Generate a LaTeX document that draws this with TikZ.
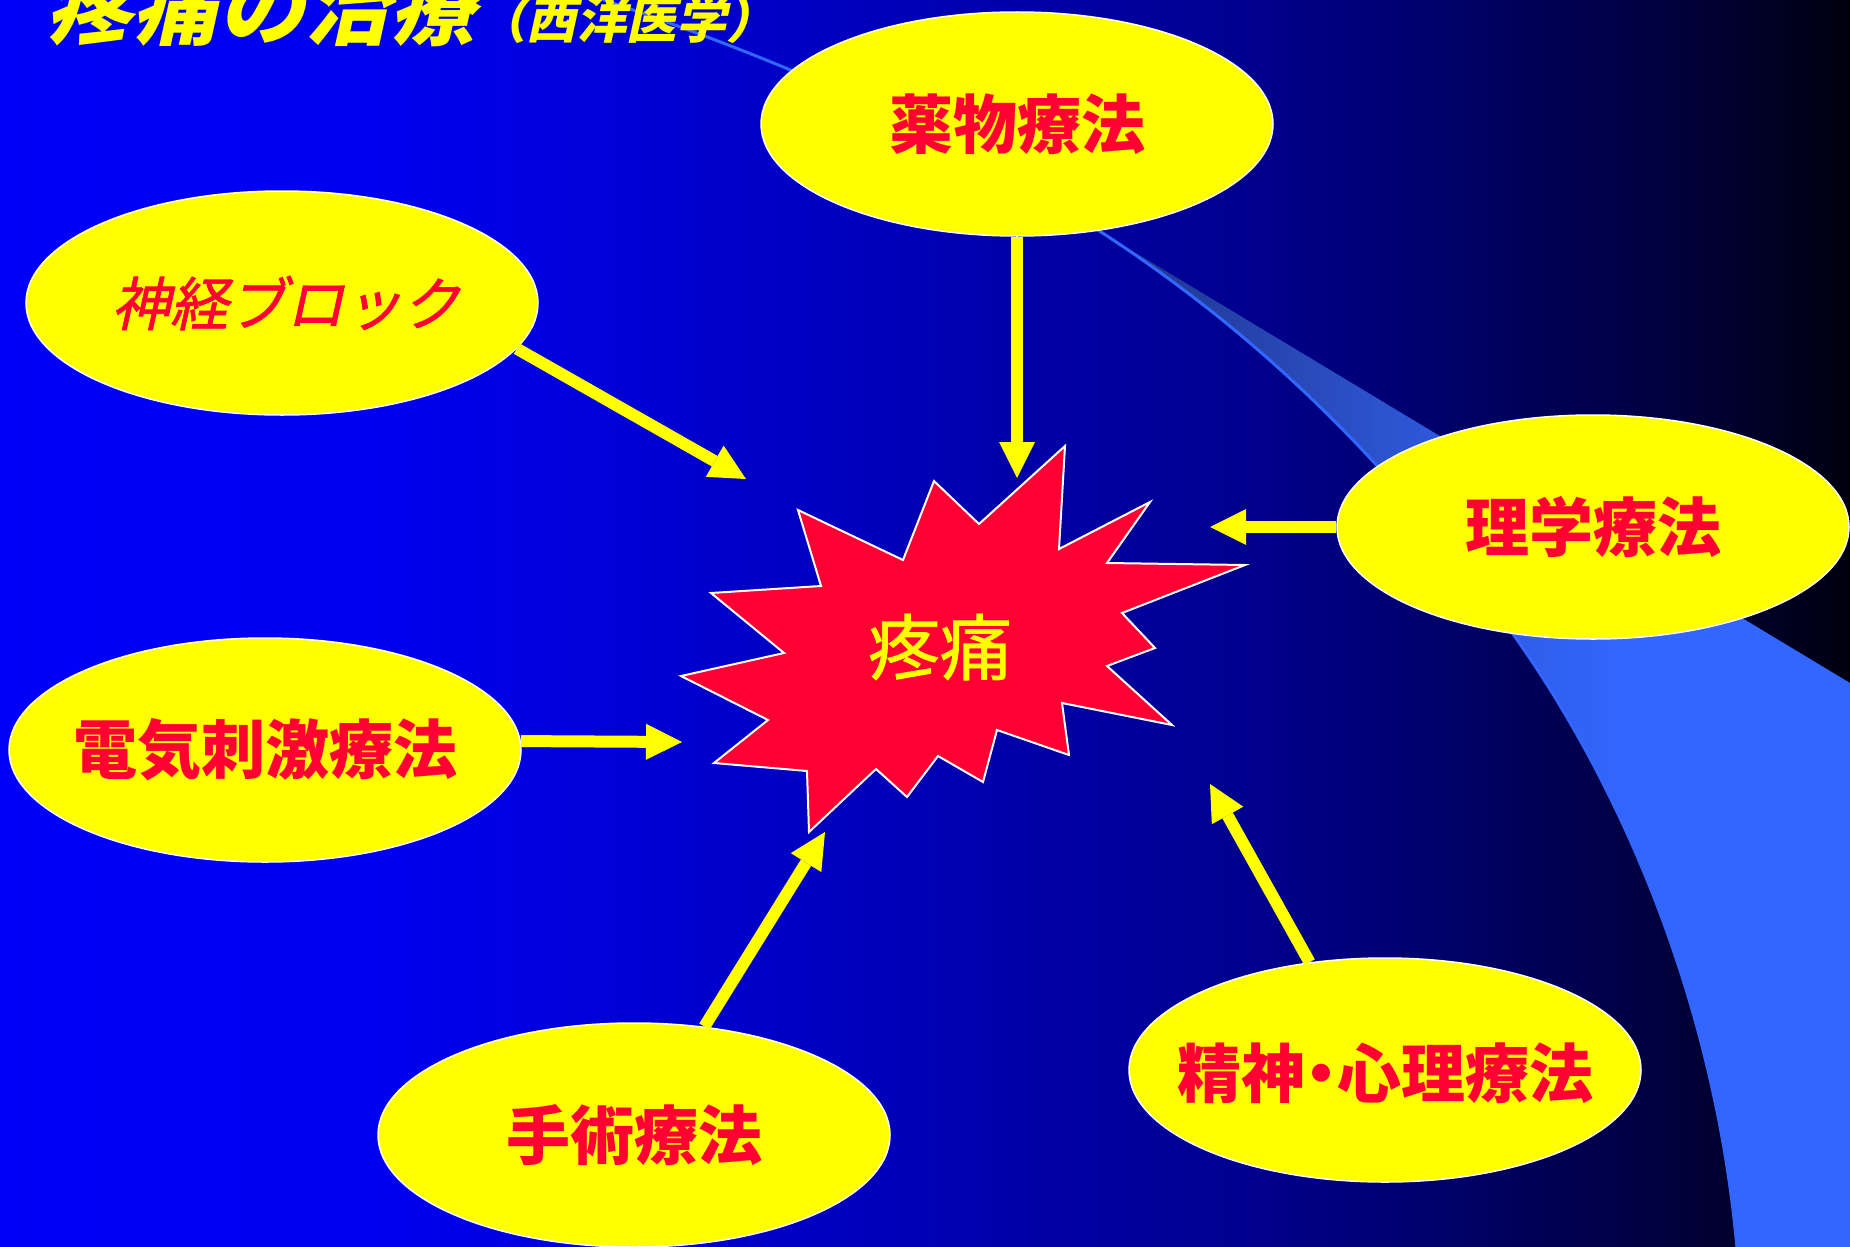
\documentclass[tikz,border=0pt]{standalone}
\usepackage{fontspec}
\usetikzlibrary{shapes.geometric,arrows.meta}
\newfontfamily\jp{Noto Sans CJK JP}
\newfontfamily\jpm{Noto Sans CJK JP}[FakeBold=1.2]
\newfontfamily\jpsl{Noto Sans CJK JP}[FakeSlant=0.22]
\newfontfamily\jpslm{Noto Sans CJK JP}[FakeSlant=0.22,FakeBold=1.2]
\definecolor{bgA}{RGB}{0,0,250}
\definecolor{bgB}{RGB}{0,0,240}
\definecolor{bgC}{RGB}{0,0,200}
\definecolor{bgD}{RGB}{0,0,140}
\definecolor{bgE}{RGB}{0,0,65}
\definecolor{bgF}{RGB}{0,0,15}
\definecolor{swA}{RGB}{30,50,135}
\definecolor{swB}{RGB}{45,85,210}
\definecolor{swC}{RGB}{51,102,255}
\definecolor{painred}{RGB}{255,0,51}
\definecolor{ovyellow}{RGB}{255,255,0}
\pgfdeclarehorizontalshading{bgshade}{100bp}{color(0bp)=(bgA); color(25bp)=(bgA); color(35bp)=(bgB); color(45.4bp)=(bgC); color(59.1bp)=(bgD); color(69.6bp)=(bgE); color(75bp)=(bgF); color(100bp)=(bgF)}
\pgfdeclarehorizontalshading{swshade}{100bp}{color(0bp)=(swA); color(25bp)=(swA); color(45bp)=(swB); color(60bp)=(swC); color(75bp)=(swC); color(100bp)=(swC)}
\tikzset{
  ov/.style={ellipse, draw=white, line width=1.5pt, fill=ovyellow, minimum width=512pt, minimum height=224pt, inner sep=0pt},
  lab/.style={text=painred, inner sep=0pt, font=\jp\bfseries\fontsize{64}{70}\selectfont},
  labit/.style={text=painred, inner sep=0pt, font=\jpslm\fontsize{58}{64}\selectfont},
  arr/.style={draw=ovyellow, line width=12pt, -{Triangle[length=36pt,width=36pt,line width=0pt]}},
  swline/.style={draw=swC, line width=3pt}
}
\begin{document}
\begin{tikzpicture}[x=1pt,y=-1pt]
\useasboundingbox (0,0) rectangle (1850,1247);
\clip (0,0) rectangle (1850,1247);
% background
\shade[shading=bgshade] (0,0) rectangle (1850,1247);
% swoosh
\coordinate (swA) at (560,-15);
\coordinate (swB) at (1101,232);
\coordinate (swC) at (1513,634);
\coordinate (swD) at (1738,1260);
\shade[shading=swshade] (swB) .. controls (1238,321) and (1376,442) .. (swC) .. controls (1623,788) and (1718,1010) .. (swD) -- (1850,1260) -- (1850,683) -- cycle;
\draw[swline] (swA) .. controls (740,45) and (921,115) .. (swB) .. controls (1238,321) and (1376,442) .. (swC) .. controls (1623,788) and (1718,1010) .. (swD);
% title
\node[anchor=base west, inner sep=0pt, text=ovyellow, font=\jpsl\bfseries\fontsize{86}{90}\selectfont] (title) at (46,39) {疼痛の治療{\fontsize{50}{55}\selectfont（西洋医学）}};
% ellipses
\node[ov] (yaku) at (1017,124) {};
\node[ov] (shinkei) at (282,303) {};
\node[ov] (rigaku) at (1593,527) {};
\node[ov] (denki) at (265,750) {};
\node[ov] (shujutsu) at (634,1135) {};
\node[ov] (seishin) at (1385,1070) {};
\node[lab] (yakuT) at (yaku) {薬物療法};
\node[labit] (shinkeiT) at (286,303) {神経ブロック};
\node[lab] (rigakuT) at (rigaku) {理学療法};
\node[lab] (denkiT) at (denki) {電気刺激療法};
\node[lab] (shujutsuT) at (shujutsu) {手術療法};
\node[lab] (seishinT) at (1385,1073) {精神\hspace{-16pt}・\hspace{-16pt}心理療法};
% star
\draw[draw=white, line width=2pt, fill=painred, line join=miter]
 (798,510) -- (903,560) -- (934,481) -- (979,524) -- (1065,446) -- (1059,549) -- (1150,502) -- (1107,563) -- (1245,565) -- (1122,613) -- (1155,648) -- (1107,666) -- (1172,725) -- (1062,703) -- (1069,755) -- (997,730) -- (983,782) -- (938,756) -- (907,797) -- (876,769) -- (809,832) -- (807,771) -- (714,763) -- (768,720) -- (681,676) -- (784,653) -- (711,593) -- (821,586) -- cycle;
\node[text=ovyellow, inner sep=0pt, font=\jpm\fontsize{72}{78}\selectfont] (pain) at (940,647) {疼痛};
% arrow tips
\coordinate (tYaku) at (1017,478);
\coordinate (tShinkei) at (746,479);
\coordinate (tDenki) at (682,742);
\coordinate (tShujutsu) at (825,832);
\coordinate (tSeishin) at (1210,784);
\coordinate (tRigaku) at (1210,527);
% arrows
\draw[arr] (yaku.south) -- (tYaku);
\draw[arr] (shinkei.-11) -- (tShinkei);
\draw[arr] (denki.2) -- (tDenki);
\draw[arr] (shujutsu.57) -- (tShujutsu);
\draw[arr] (seishin.125) -- (tSeishin);
\draw[arr] (rigaku.west) -- (tRigaku);
\end{tikzpicture}
\end{document}
